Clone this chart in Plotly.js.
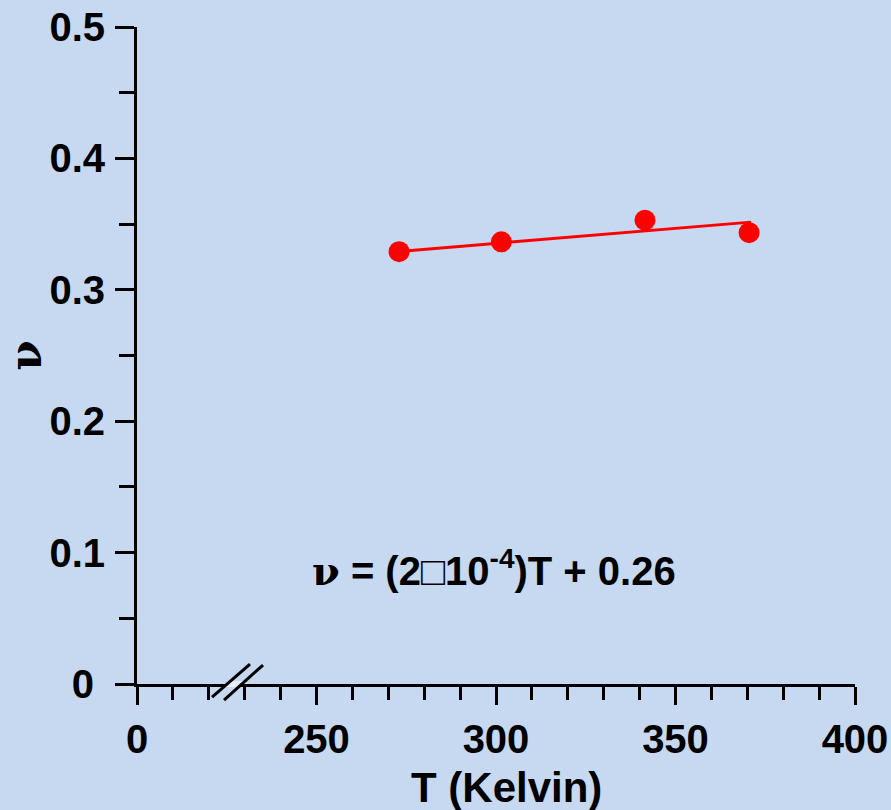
<!DOCTYPE html>
<html>
<head>
<meta charset="utf-8">
<script src="https://cdn.plot.ly/plotly-3.0.1.min.js"></script>
<style>
  html, body { margin: 0; padding: 0; background: #C6D9F0; }
  #chart { width: 891px; height: 810px; }
</style>
</head>
<body>
<div id="chart"></div>
<script>
// Measured exponent nu versus temperature
const temperatureK = [273, 301.5, 341.5, 370.5];
const nuValues = [0.329, 0.3365, 0.353, 0.3435];

// Linear fit drawn across the measured range
const fitT = [273, 371];
const fitNu = [0.3292, 0.3515];

// Broken axis: the left end stands for 0
const xTickVals = [200, 250, 300, 350, 400];
const xTickText = ['0', '250', '300', '350', '400'];
const yTickVals = [0, 0.1, 0.2, 0.3, 0.4, 0.5];
const yTickText = ['0\u00A0', '0.1', '0.2', '0.3', '0.4', '0.5'];

const bg = '#C6D9F0';
const sans = 'Liberation Sans, Arial, sans-serif';
const serif = 'DejaVu Serif, Liberation Serif, serif';

const traces = [
  {
    x: fitT, y: fitNu, type: 'scatter', mode: 'lines',
    line: { color: '#FF0000', width: 3 }, hoverinfo: 'skip'
  },
  {
    x: temperatureK, y: nuValues, type: 'scatter', mode: 'markers',
    marker: { color: '#FF0000', size: 21 }
  }
];

const layout = {
  width: 891, height: 810,
  paper_bgcolor: bg, plot_bgcolor: bg,
  showlegend: false,
  margin: { l: 137, r: 36, t: 27, b: 126 },
  font: { family: sans, color: '#000' },
  xaxis: {
    range: [200, 400], showgrid: false, zeroline: false,
    showline: true, linecolor: '#000', linewidth: 3,
    tickmode: 'array', tickvals: xTickVals, ticktext: xTickText,
    ticks: 'outside', ticklen: 18, tickwidth: 3, tickcolor: '#000',
    minor: { dtick: 10, ticks: 'outside', ticklen: 13, tickwidth: 3, tickcolor: '#000' },
    tickfont: { family: sans, size: 40, weight: 'bold' },
    ticklabelstandoff: 0
  },
  yaxis: {
    range: [0, 0.5], showgrid: false, zeroline: false,
    showline: true, linecolor: '#000', linewidth: 3,
    tickmode: 'array', tickvals: yTickVals, ticktext: yTickText,
    ticks: 'outside', ticklen: 19, tickwidth: 3, tickcolor: '#000',
    minor: { dtick: 0.05, ticks: 'outside', ticklen: 15, tickwidth: 3, tickcolor: '#000' },
    tickfont: { family: sans, size: 40, weight: 'bold' },
    ticklabelstandoff: 2,
    title: { text: 'ν', font: { family: serif, size: 44, weight: 'bold' }, standoff: 10 }
  },
  annotations: [
    {
      // x-axis title, sitting slightly right of the plot centre
      x: 0.514, y: -0.158, xref: 'paper', yref: 'paper',
      xanchor: 'center', yanchor: 'middle', showarrow: false,
      text: 'T (Kelvin)',
      font: { family: sans, size: 42, weight: 'bold', color: '#000' }
    },
    {
      x: 299.5, y: 0.088, xref: 'x', yref: 'y', showarrow: false,
      text: '<span style="font-family:DejaVu Serif, serif">ν</span> = (2□10<sup>-4</sup>)T + 0.26',
      font: { family: sans, size: 40, weight: 'bold', color: '#000' }
    }
  ],
  shapes: [
    // gap in the axis line between the break marks
    {
      type: 'path', xref: 'paper', yref: 'paper', layer: 'above',
      path: 'M 0.1205 -0.0046 L 0.1302 0.0046 L 0.1507 0.0046 L 0.1407 -0.0046 Z',
      fillcolor: '#E6EFFA', line: { width: 0 }
    },
    {
      type: 'line', xref: 'paper', yref: 'paper', layer: 'above',
      x0: 0.1045, y0: -0.0198, x1: 0.1574, y1: 0.0304,
      line: { color: '#000', width: 3 }
    },
    {
      type: 'line', xref: 'paper', yref: 'paper', layer: 'above',
      x0: 0.1212, y0: -0.0244, x1: 0.1755, y1: 0.0289,
      line: { color: '#000', width: 3 }
    }
  ]
};

Plotly.newPlot('chart', traces, layout, { displayModeBar: false, staticPlot: true });
</script>
</body>
</html>
